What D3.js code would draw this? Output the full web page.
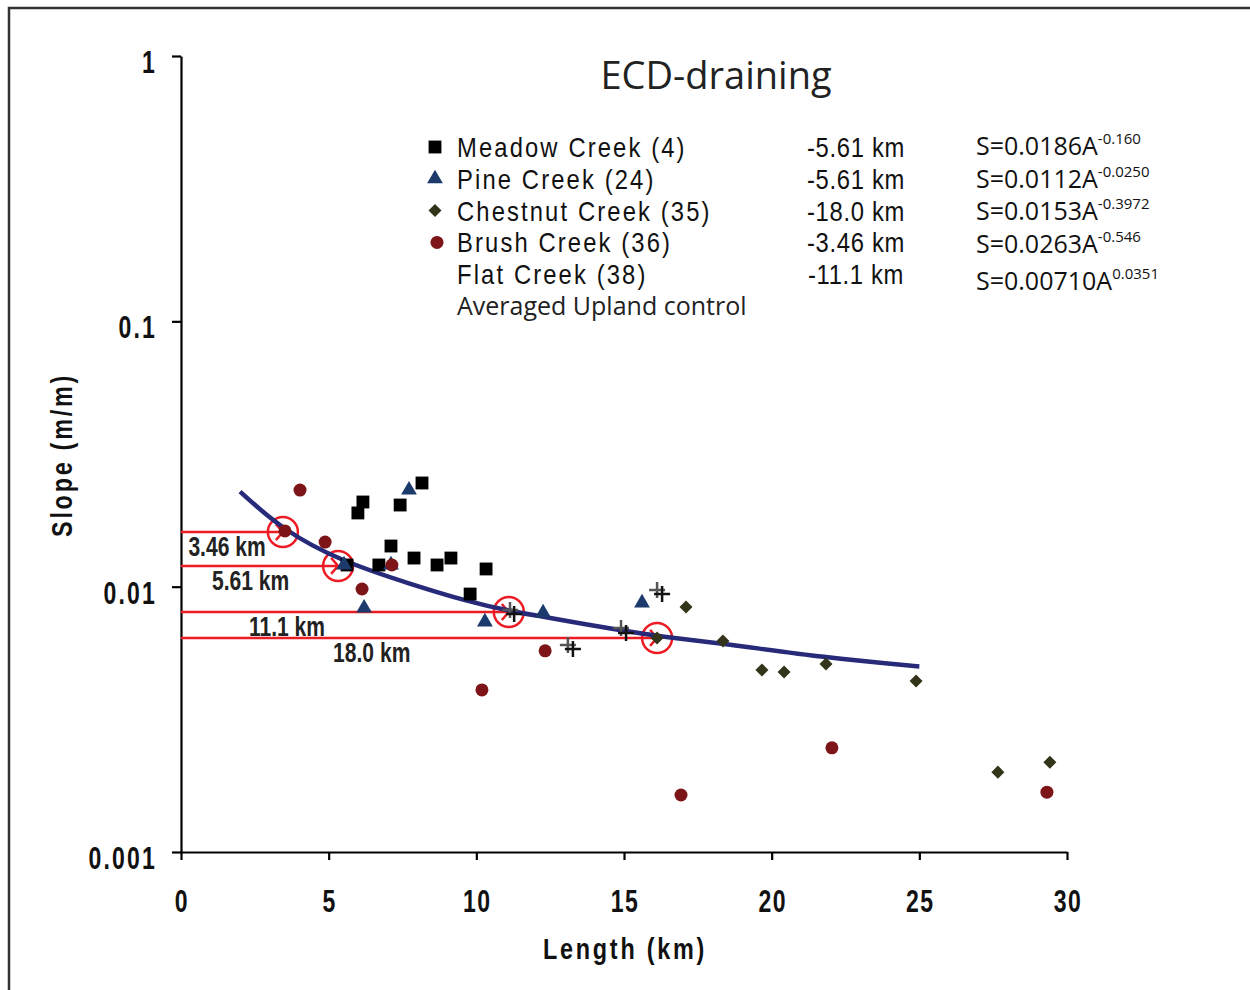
<!DOCTYPE html>
<head>
  <meta charset="utf-8">
  <script src="https://cdn.jsdelivr.net/npm/d3@7"></script>
  <style>
    body { margin:0; background:#fff; }
    text { font-family: "Liberation Sans", Arial, sans-serif; }
    .myriad { font-family: "Open Sans", "Noto Sans", sans-serif; }
  </style>
</head>
<body>
<script>
// ---- data (length km, slope m/m) ----
var meadowL = [5.62, 5.99, 6.16, 6.70, 7.11, 7.42, 7.89, 8.16, 8.67, 9.14, 9.79, 10.33];
var meadowS = [0.01207, 0.01896, 0.02085, 0.01207, 0.01423, 0.02031, 0.01282, 0.02459, 0.01207, 0.01282, 0.00938, 0.01166];

var pineL = [5.52, 7.72, 7.11, 6.20, 10.29, 12.26, 15.61];
var pineS = [0.01207, 0.02313, 0.01207, 0.00831, 0.00736, 0.00796, 0.00868];

var chestnutL = [17.10, 16.12, 18.35, 19.67, 20.42, 21.84, 24.89, 27.66, 29.42];
var chestnutS = [0.00838, 0.00641, 0.00624, 0.00485, 0.00477, 0.00511, 0.00441, 0.00200, 0.00218];

var brushL = [3.52, 4.03, 4.88, 6.13, 7.14, 10.19, 12.33, 16.93, 22.04, 29.32];
var brushS = [0.01622, 0.02313, 0.01473, 0.00980, 0.01207, 0.00408, 0.00573, 0.00164, 0.00247, 0.00168];

var flatL = [11.14, 11.28, 13.10, 13.27, 14.90, 15.07, 16.12, 16.29];
var flatS = [0.00817, 0.00789, 0.00603, 0.00582, 0.00699, 0.00669, 0.00971, 0.00938];

// averaged upland control curve
var uplandL = [2, 3.46, 5.4, 7.8, 9.7, 11.1, 12.3, 15, 16.2, 18.4, 21.8, 25];
var uplandS = [0.0228, 0.0163, 0.0125, 0.0102, 0.0088, 0.0081, 0.0077, 0.0068, 0.0065, 0.0061, 0.0054, 0.0050];

// red arrows: label, slope of the line, length reached, label x (km)
var arrowLabels = ["3.46 km", "5.61 km", "11.1 km", "18.0 km"];
var arrowS = [0.01606, 0.01197, 0.00803, 0.00641];
var arrowL = [3.45, 5.32, 11.1, 16.12];
var arrowLabelL = [0.25, 1.05, 2.3, 5.15];

var legendNames = ["Meadow Creek (4)", "Pine Creek (24)", "Chestnut Creek (35)", "Brush Creek (36)", "Flat Creek (38)"];
var legendDist = ["-5.61 km", "-5.61 km", "-18.0 km", "-3.46 km", "-11.1 km"];
var eqBase = ["S=0.0186A", "S=0.0112A", "S=0.0153A", "S=0.0263A", "S=0.00710A"];
var eqExp = ["-0.160", "-0.0250", "-0.3972", "-0.546", "0.0351"];

var xTicks = [0, 5, 10, 15, 20, 25, 30];
var yTicks = [0.001, 0.01, 0.1, 1];
var yTickLabels = ["0.001", "0.01", "0.1", "1"];

var width = 1250, height = 990;

var svg = d3.select("body").append("svg")
  .attr("width", width)
  .attr("height", height);

// condensed text: the original uses a narrow face, so squeeze Liberation Sans
function ntext(g, tx, ty, str, size, opts) {
  opts = opts || {};
  var t = g.append("text")
    .attr("transform", "translate(" + tx + "," + ty + ")" + (opts.rotate ? " rotate(" + opts.rotate + ")" : "") +
      " scale(" + (opts.sx || 0.74) + ",1)")
    .attr("text-anchor", opts.anchor || "start")
    .attr("font-weight", opts.weight || "bold")
    .attr("fill", opts.fill || "#111")
    .style("font-size", size + "px")
    .style("letter-spacing", (opts.ls || 0) + "px")
    .text(str);
  return t;
}

// frame
svg.append("path")
  .attr("d", "M9,990 V8 H1250")
  .attr("fill", "none")
  .attr("stroke", "#333")
  .attr("stroke-width", 2.5);

var x = d3.scaleLinear().domain([0, 30]).range([181, 1067]);
var y = d3.scaleLog().domain([0.001, 1]).range([852, 56]);

// axes
var xAxis = svg.append("g")
  .attr("transform", "translate(0," + y(0.001) + ")")
  .call(d3.axisBottom(x).tickValues(xTicks).tickSize(8).tickSizeOuter(0).tickFormat(""));
var yAxis = svg.append("g")
  .attr("transform", "translate(" + x(0) + ",0)")
  .call(d3.axisLeft(y).tickValues(yTicks).tickSize(9).tickSizeOuter(0).tickFormat(""));

[xAxis, yAxis].forEach(function(a) {
  a.select(".domain").attr("stroke", "#000").attr("stroke-width", 2.2);
  a.selectAll(".tick line").attr("stroke", "#000").attr("stroke-width", 2.2);
});

var labels = svg.append("g");
xTicks.forEach(function(d) {
  ntext(labels, x(d) + 1, 912, String(d), 32, { anchor: "middle", sx: 0.72, ls: 2 });
});
yTicks.forEach(function(d, i) {
  ntext(labels, 157, y(d) + 17, yTickLabels[i], 32, { anchor: "end", sx: 0.72, ls: 3 });
});

ntext(labels, 625, 959, "Length (km)", 30, { anchor: "middle", sx: 0.78, ls: 3.5 });
ntext(labels, 72, 455, "Slope (m/m)", 30, { anchor: "middle", sx: 0.78, ls: 3.5, rotate: -90 });

// title
svg.append("text")
  .attr("class", "myriad")
  .attr("x", 716).attr("y", 89)
  .attr("text-anchor", "middle")
  .style("font-size", "38px")
  .attr("fill", "#222")
  .text("ECD-draining");

// red annotation lines (drawn under the markers)
var red = "#ed1c24";
var ann = svg.append("g");
arrowLabels.forEach(function(lab, i) {
  var yy = y(arrowS[i]), xx = x(arrowL[i]);
  ann.append("line")
    .attr("x1", x(0)).attr("x2", xx)
    .attr("y1", yy).attr("y2", yy)
    .attr("stroke", red).attr("stroke-width", 2.5);
  ann.append("path")
    .attr("d", "M" + (xx - 7) + "," + (yy - 8) + " L" + xx + "," + yy + " L" + (xx - 7) + "," + (yy + 8))
    .attr("fill", "none").attr("stroke", red).attr("stroke-width", 2.5);
  ann.append("circle")
    .attr("cx", xx).attr("cy", yy).attr("r", 15)
    .attr("fill", "none").attr("stroke", red).attr("stroke-width", 2.5);
  ntext(ann, x(arrowLabelL[i]), yy + 24, lab, 27, { sx: 0.78, fill: "#222" });
});

// upland control curve
var line = d3.line()
  .x(function(d) { return x(d[0]); })
  .y(function(d) { return y(d[1]); })
  .curve(d3.curveBasis);
svg.append("path")
  .datum(d3.zip(uplandL, uplandS))
  .attr("d", line)
  .attr("fill", "none")
  .attr("stroke", "#262a78")
  .attr("stroke-width", 4.5);

// markers
var colors = ["#000000", "#1c3a6b", "#34341a", "#7d1418"];
var symbols = [d3.symbolSquare, d3.symbolTriangle, d3.symbolDiamond2, d3.symbolCircle];
var sizes = [165, 108, 108, 133];
var series = [[meadowL, meadowS], [pineL, pineS], [chestnutL, chestnutS], [brushL, brushS]];

function drawSymbol(g, i, cx, cy) {
  g.append("path")
    .attr("d", d3.symbol().type(symbols[i]).size(sizes[i]))
    .attr("transform", "translate(" + cx + "," + cy + ")")
    .attr("fill", colors[i]);
}

var marks = svg.append("g");
// draw in an order that puts brush circles over pine triangles where they overlap
[0, 2, 1, 3].forEach(function(i) {
  var s = series[i];
  for (var k = 0; k < s[0].length; k++) {
    drawSymbol(marks, i, x(s[0][k]), y(s[1][k]));
  }
});

// flat creek crosses
for (var k = 0; k < flatL.length; k++) {
  var cx = x(flatL[k]), cy = y(flatS[k]);
  marks.append("path")
    .attr("d", "M" + (cx - 8) + "," + cy + " H" + (cx + 8) + " M" + cx + "," + (cy - 8) + " V" + (cy + 8))
    .attr("stroke", k % 2 ? "#111" : "#555")
    .attr("stroke-width", 2.5);
}

// legend
var leg = svg.append("g");
legendNames.forEach(function(name, i) {
  var yy = 157 + i * 31.8;
  if (i < 4) drawSymbol(leg, i, i == 3 ? 437 : 435, yy - 10);
  ntext(leg, 457, yy, name, 28, { weight: "normal", sx: 0.85, ls: 2.5 });
  ntext(leg, 856, yy, legendDist[i], 28, { weight: "normal", sx: 0.85, ls: 0.8, anchor: "middle" });
  var eq = leg.append("text")
    .attr("class", "myriad")
    .attr("x", 976).attr("y", i == 4 ? 290 : 155 + i * 32.5)
    .style("font-size", "25px")
    .attr("fill", "#111")
    .text(eqBase[i]);
  eq.append("tspan")
    .attr("dy", -11)
    .style("font-size", "15px")
    .text(eqExp[i]);
});
leg.append("text")
  .attr("class", "myriad")
  .attr("x", 457).attr("y", 315)
  .style("font-size", "25px")
  .attr("fill", "#222")
  .text("Averaged Upland control");
</script>
</body>
